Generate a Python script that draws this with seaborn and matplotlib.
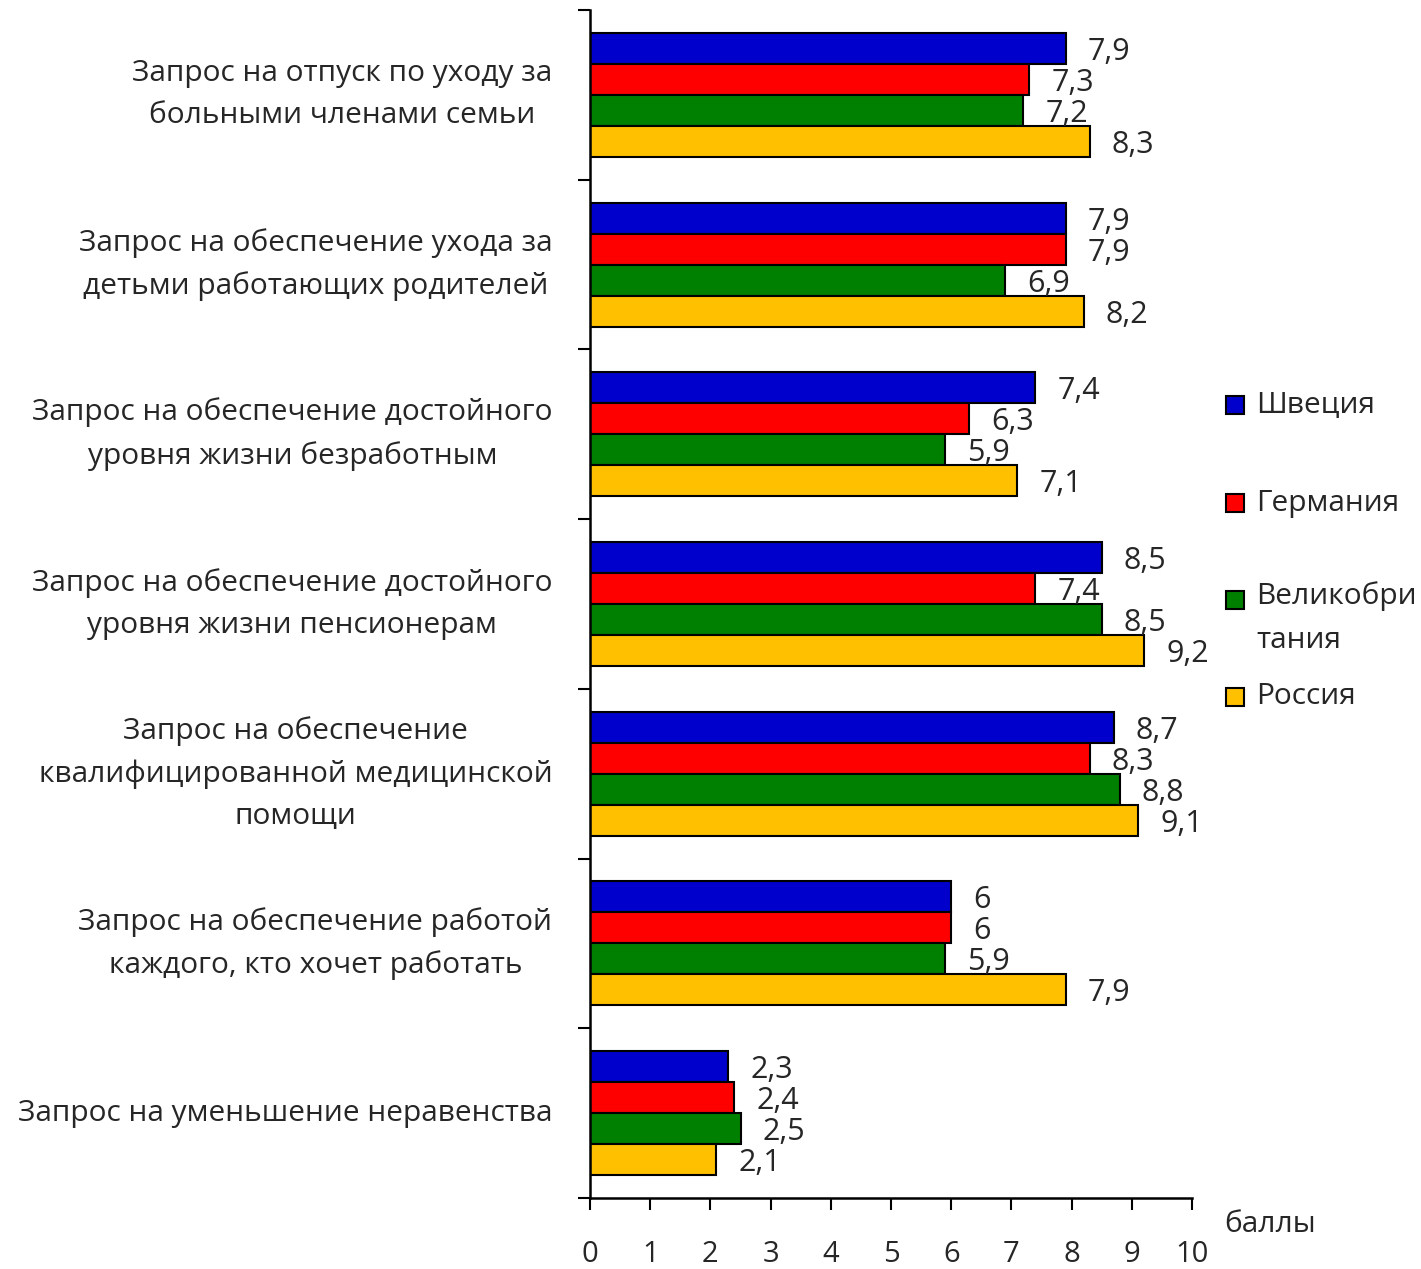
import pandas as pd
import numpy as np
from matplotlib import pyplot as plt
from matplotlib.patches import Rectangle
import seaborn as sns

categories = ['Запрос на отпуск по уходу за\nбольными членами семьи',
              'Запрос на обеспечение ухода за\nдетьми работающих родителей',
              'Запрос на обеспечение достойного\nуровня жизни безработным',
              'Запрос на обеспечение достойного\nуровня жизни пенсионерам',
              'Запрос на обеспечение\nквалифицированной медицинской\nпомощи',
              'Запрос на обеспечение работой\nкаждого, кто хочет работать',
              'Запрос на уменьшение неравенства']
countries = ['Швеция', 'Германия', 'Великобритания', 'Россия']
legend_labels = ['Швеция', 'Германия', 'Великобри\nтания', 'Россия']
sweden = [7.9, 7.9, 7.4, 8.5, 8.7, 6, 2.3]
germany = [7.3, 7.9, 6.3, 7.4, 8.3, 6, 2.4]
uk = [7.2, 6.9, 5.9, 8.5, 8.8, 5.9, 2.5]
russia = [8.3, 8.2, 7.1, 9.2, 9.1, 7.9, 2.1]
colors = ['#0000CC', '#FF0000', '#008000', '#FFC000']

#long format for seaborn
rows = []
for country, vals in zip(countries, [sweden, germany, uk, russia]):
    for cat, v in zip(categories, vals):
        rows.append({'cat': cat, 'country': country, 'value': v})
df = pd.DataFrame(rows)

sns.set_style('white')
plt.rcParams['font.family'] = ['Open Sans', 'DejaVu Sans']

fig = plt.figure(figsize=(14.21, 12.69), dpi=100)
ax = fig.add_axes([590/1421, 1 - 1198/1269, 602/1421, 1188/1269])

sns.barplot(data=df, x='value', y='cat', hue='country', orient='h',
            palette=colors, saturation=1, width=0.73, edgecolor='black',
            linewidth=1.5, legend=False, ax=ax)

for cont in ax.containers:
    labs = [f"{b.get_width():g}".replace('.', ',') for b in cont]
    txts = ax.bar_label(cont, labels=labs, padding=16, fontsize=22)
    for t in txts:
        t.set_va('center_baseline')

ax.set_xlim(0, 10)
ax.set_ylim(6.5, -0.5)
ax.set_xticks(range(0, 11))
ax.set_xticklabels([str(i) for i in range(0, 11)], fontsize=21)
ax.tick_params(axis='x', bottom=True, direction='out', length=8.6, width=1.5,
               pad=22, color='black')

ax.set_yticks(np.arange(7))
ax.set_yticklabels(categories, fontsize=21.5)
ax.set_yticks(np.arange(-0.5, 7, 1), minor=True)
ax.tick_params(axis='y', which='major', left=False, length=0, pad=27)
ax.tick_params(axis='y', which='minor', left=True, direction='out', length=8.6,
               width=1.5, color='black')
for t in ax.get_yticklabels():
    t.set_multialignment('center')
    t.set_linespacing(1.6)
    t.set_va('center')

sns.despine(ax=ax)
for s in ['left', 'bottom']:
    ax.spines[s].set_linewidth(1.8)
    ax.spines[s].set_color('black')

ax.set_ylabel('')
ax.set_xlabel('баллы', fontsize=21.5)
ax.xaxis.set_label_coords((1270 - 590) / 602, -27 / 1188)
ax.xaxis.label.set_va('center')

#legend drawn by hand to match the uneven spacing
leg_y = [405, 503, 600, 697]
for lab, col, yy in zip(legend_labels, colors, leg_y):
    fig.patches.append(Rectangle((1226/1421, 1 - (yy + 9)/1269), 18/1421, 18/1269,
                                 transform=fig.transFigure, facecolor=col,
                                 edgecolor='black', linewidth=1.5))
    if '\n' in lab:
        fig.text(1256/1421, 1 - (yy - 19)/1269, lab, fontsize=21.5, va='top',
                 ha='left', linespacing=1.7)
    else:
        fig.text(1256/1421, 1 - yy/1269, lab, fontsize=21.5, va='center', ha='left')

fig.savefig('out.png', dpi=100)
